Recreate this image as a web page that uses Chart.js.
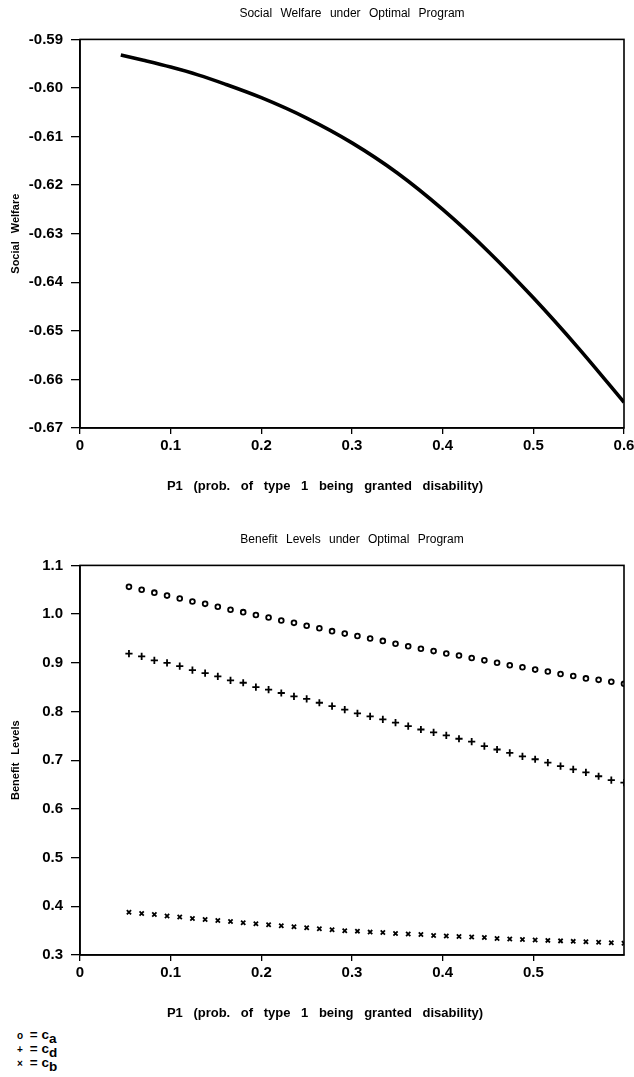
<!DOCTYPE html>
<html>
<head>
<meta charset="utf-8">
<script src="https://cdn.jsdelivr.net/npm/chart.js@4.4.1/dist/chart.umd.min.js"></script>
<style>
  html, body { margin: 0; padding: 0; background: #fff; }
  body { width: 634px; height: 1077px; position: relative; overflow: hidden; font-family: "Liberation Sans", Arial, sans-serif; }
  .box { position: absolute; left: 0; width: 634px; }
  #topBox { top: 0; height: 493px; }
  #botBox { top: 526px; height: 494px; }
  #legend { position: absolute; left: 14px; top: 1028px; font-weight: bold; font-size: 13.5px; line-height: 13px; color: #000; }
  #legend div { white-space: nowrap; }
  #legend .sym { display: inline-block; width: 12px; text-align: center; font-size: 10px; }
  #legend sub { font-size: 13.5px; vertical-align: -4px; line-height: 0; }
</style>
</head>
<body>
<div id="topBox" class="box"><canvas id="topChart"></canvas></div>
<div id="botBox" class="box"><canvas id="botChart"></canvas></div>
<div id="legend">
  <div><span class="sym">o</span> = c<sub>a</sub></div>
  <div><span class="sym">+</span> = c<sub>d</sub></div>
  <div><span class="sym">×</span> = c<sub>b</sub></div>
</div>
<script>
// ---------- Top chart data ----------
const welfareP1 = [0.045, 0.07, 0.1, 0.13, 0.16, 0.2, 0.25, 0.3, 0.35, 0.4, 0.45, 0.5, 0.55, 0.6];
const welfareValues = [-0.5932, -0.5943, -0.5957, -0.5973, -0.5992, -0.6020, -0.6062, -0.6113, -0.6175, -0.6250, -0.6336, -0.6432, -0.6536, -0.6647];
const topXTicks = [0, 0.1, 0.2, 0.3, 0.4, 0.5, 0.6];
const topXLabels = ['0', '0.1', '0.2', '0.3', '0.4', '0.5', '0.6'];
const topYTicks = [-0.59, -0.60, -0.61, -0.62, -0.63, -0.64, -0.65, -0.66, -0.67];
const topYLabels = ['-0.59', '-0.60', '-0.61', '-0.62', '-0.63', '-0.64', '-0.65', '-0.66', '-0.67'];

// ---------- Bottom chart data ----------
const benefitP1 = [0.054, 0.068, 0.082, 0.096, 0.110, 0.124, 0.138, 0.152, 0.166, 0.180,
                   0.194, 0.208, 0.222, 0.236, 0.250, 0.264, 0.278, 0.292, 0.306, 0.320,
                   0.334, 0.348, 0.362, 0.376, 0.390, 0.404, 0.418, 0.432, 0.446, 0.460,
                   0.474, 0.488, 0.502, 0.516, 0.530, 0.544, 0.558, 0.572, 0.586, 0.600];
const cA = [1.056, 1.050, 1.044, 1.038, 1.032, 1.026, 1.021, 1.015, 1.009, 1.004,
            0.998, 0.993, 0.987, 0.982, 0.976, 0.971, 0.965, 0.960, 0.955, 0.950,
            0.945, 0.939, 0.934, 0.929, 0.924, 0.919, 0.915, 0.910, 0.905, 0.900,
            0.895, 0.891, 0.886, 0.882, 0.877, 0.873, 0.868, 0.865, 0.861, 0.857];
const cD = [0.919, 0.913, 0.905, 0.900, 0.893, 0.885, 0.879, 0.872, 0.864, 0.859,
            0.850, 0.845, 0.838, 0.831, 0.826, 0.818, 0.811, 0.804, 0.796, 0.790,
            0.784, 0.777, 0.770, 0.763, 0.757, 0.751, 0.744, 0.738, 0.729, 0.722,
            0.715, 0.708, 0.702, 0.695, 0.688, 0.681, 0.675, 0.667, 0.659, 0.654];
const cB = [0.388, 0.385, 0.383, 0.380, 0.378, 0.375, 0.373, 0.371, 0.369, 0.366,
            0.364, 0.362, 0.360, 0.358, 0.356, 0.354, 0.352, 0.350, 0.349, 0.347,
            0.346, 0.344, 0.343, 0.342, 0.340, 0.339, 0.338, 0.337, 0.336, 0.334,
            0.333, 0.332, 0.331, 0.330, 0.329, 0.328, 0.327, 0.326, 0.325, 0.324];
const botXTicks = [0, 0.1, 0.2, 0.3, 0.4, 0.5];
const botXLabels = ['0', '0.1', '0.2', '0.3', '0.4', '0.5'];
const botYTicks = [1.1, 1.0, 0.9, 0.8, 0.7, 0.6, 0.5, 0.4, 0.3];
const botYLabels = ['1.1', '1.0', '0.9', '0.8', '0.7', '0.6', '0.5', '0.4', '0.3'];

const xTitleText = 'P1 (prob. of type 1 being granted disability)';
const FONT = '"Liberation Sans", Arial, sans-serif';

// box around the plot area
const framePlugin = {
  id: 'frame',
  beforeDraw(chart) { chart.ctx.wordSpacing = '5px'; },
  afterDatasetsDraw(chart) {
    const a = chart.chartArea, ctx = chart.ctx;
    ctx.save();
    ctx.strokeStyle = '#000';
    ctx.lineWidth = 1.6;
    ctx.strokeRect(a.left, a.top, a.right - a.left, a.bottom - a.top);
    ctx.restore();
  }
};

// x-axis caption, placed under the tick labels like the original
const xCaptionPlugin = {
  id: 'xCaption',
  afterDraw(chart, args, opts) {
    const ctx = chart.ctx, a = chart.chartArea;
    ctx.save();
    ctx.wordSpacing = '7px';
    ctx.fillStyle = '#000';
    ctx.font = 'bold 13px ' + FONT;
    ctx.textAlign = 'center';
    ctx.textBaseline = 'middle';
    ctx.fillText(opts.text, opts.centerX, a.bottom + 58);
    ctx.restore();
  }
};

function pairs(xs, ys) { return xs.map((x, i) => ({ x: x, y: ys[i] })); }

function axis(min, max, tickVals, tickLabels, isY, titleText) {
  const s = {
    type: 'linear',
    min: min, max: max,
    border: { display: true, color: '#000', width: 1.6 },
    grid: { display: true, drawOnChartArea: false, drawTicks: true, tickLength: isY ? 9 : 6, color: '#000', lineWidth: 1.3 },
    afterBuildTicks: (sc) => { sc.ticks = tickVals.map(v => ({ value: v })); },
    ticks: {
      color: '#000', autoSkip: false, maxRotation: 0, padding: isY ? 8 : 3,
      font: { family: FONT, size: 15, weight: 'bold' },
      callback: (v) => { const i = tickVals.findIndex(t => Math.abs(t - v) < 1e-9); return i >= 0 ? tickLabels[i] : ''; }
    }
  };
  if (isY) {
    s.afterFit = (sc) => { sc.width = 80; };
    s.title = { display: true, text: titleText, color: '#000', font: { family: FONT, size: 11, weight: 'bold' }, padding: { top: 9.5, bottom: 0 } };
  } else {
    s.afterFit = (sc) => { sc.height = 65; sc.paddingRight = 10; sc.paddingLeft = 0; };
    s.title = { display: false };
  }
  return s;
}

function titleOpt(text) {
  return { display: true, text: text, color: '#000', fullSize: false,
           font: { family: FONT, size: 12, weight: 'normal' }, padding: { top: 6, bottom: 19 } };
}

new Chart(document.getElementById('topChart'), {
  type: 'scatter',
  data: { datasets: [{
    data: pairs(welfareP1, welfareValues),
    showLine: true, borderColor: '#000', borderWidth: 3.6, pointRadius: 0,
    cubicInterpolationMode: 'monotone', fill: false
  }] },
  options: {
    responsive: true, maintainAspectRatio: false, animation: false,
    layout: { padding: { left: 0, right: 10, top: 0, bottom: 0 } },
    plugins: { legend: { display: false }, tooltip: { enabled: false },
               title: titleOpt('Social Welfare under Optimal Program'),
               xCaption: { text: xTitleText, centerX: 325 } },
    scales: {
      x: axis(0, 0.6, topXTicks, topXLabels, false),
      y: axis(-0.67, -0.59, topYTicks, topYLabels, true, 'Social Welfare')
    }
  },
  plugins: [framePlugin, xCaptionPlugin]
});

new Chart(document.getElementById('botChart'), {
  type: 'scatter',
  data: { datasets: [
    { label: 'c_a', data: pairs(benefitP1, cA), pointStyle: 'circle', pointRadius: 2.4, borderWidth: 1.8, borderColor: '#000', backgroundColor: '#fff' },
    { label: 'c_d', data: pairs(benefitP1, cD), pointStyle: 'cross', pointRadius: 3.6, borderWidth: 1.8, borderColor: '#000' },
    { label: 'c_b', data: pairs(benefitP1, cB), pointStyle: 'crossRot', pointRadius: 3.0, borderWidth: 1.8, borderColor: '#000' }
  ] },
  options: {
    responsive: true, maintainAspectRatio: false, animation: false,
    layout: { padding: { left: 0, right: 10, top: 0, bottom: 0 } },
    plugins: { legend: { display: false }, tooltip: { enabled: false },
               title: titleOpt('Benefit Levels under Optimal Program'),
               xCaption: { text: xTitleText, centerX: 325 } },
    scales: {
      x: axis(0, 0.6, botXTicks, botXLabels, false),
      y: axis(0.3, 1.1, botYTicks, botYLabels, true, 'Benefit Levels')
    }
  },
  plugins: [framePlugin, xCaptionPlugin]
});
</script>
</body>
</html>
